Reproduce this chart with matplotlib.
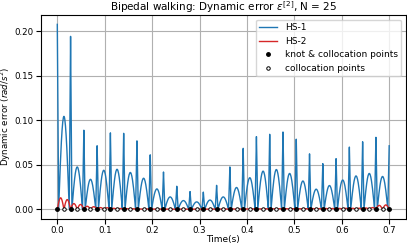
import numpy as np
import matplotlib
matplotlib.use("Agg")
import matplotlib.pyplot as plt

# tiempo final y numero de intervalos
T = 0.7
N = 25

# picos del error HS-1 en los nudos (26) y en los puntos medios (25)
hs1_knot_peaks = [0.208, 0.1945, 0.089, 0.0715, 0.086, 0.0855, 0.077, 0.0613, 0.042,
                  0.026, 0.020, 0.0194, 0.027, 0.0477, 0.0686, 0.0818, 0.0844, 0.087,
                  0.0789, 0.0624, 0.0514, 0.057, 0.0700, 0.076, 0.0810, 0.0715]
hs1_mid_peaks = [0.1046, 0.0477, 0.0338, 0.044, 0.0451, 0.0415, 0.035, 0.023, 0.014,
                 0.0099, 0.0084, 0.0105, 0.014, 0.0246, 0.0356, 0.043, 0.0448, 0.0404,
                 0.0319, 0.0227, 0.0268, 0.033, 0.0376, 0.0404, 0.0370]

# picos del error HS-2 por medio intervalo (50)
hs2_peaks = [0.013, 0.011, 0.0065, 0.0055, 0.0035, 0.003, 0.002, 0.0018, 0.0012, 0.001,
             0.0008, 0.0007, 0.0005, 0.0005, 0.0004, 0.0004, 0.0003, 0.0003, 0.0003, 0.0003,
             0.0003, 0.0003, 0.0003, 0.0004, 0.0004, 0.0004, 0.0005, 0.0005, 0.0005, 0.0006,
             0.0006, 0.0007, 0.0007, 0.0008, 0.0008, 0.0008, 0.0008, 0.0008, 0.0009, 0.0009,
             0.001, 0.001, 0.0011, 0.0012, 0.0012, 0.0013, 0.0015, 0.002, 0.0045, 0.005]

t_knots = np.linspace(0, T, N + 1)
t_mid = 0.5 * (t_knots[:-1] + t_knots[1:])
h = T / N


def curva_hs1(w=0.1, m=40):
    tt, yy = [], []
    for k in range(N):
        s = np.linspace(0, 1, m)
        y = hs1_knot_peaks[k] * np.clip(1 - s / w, 0, None)
        y += hs1_knot_peaks[k + 1] * np.clip(1 - (1 - s) / w, 0, None)
        dentro = (s > w) & (s < 1 - w)
        y[dentro] += hs1_mid_peaks[k] * np.sin(np.pi * (s[dentro] - w) / (1 - 2 * w))
        tt.append(t_knots[k] + s * h)
        yy.append(y)
    return np.concatenate(tt), np.concatenate(yy)


def curva_hs2(m=20):
    tt, yy = [], []
    for j, p in enumerate(hs2_peaks):
        s = np.linspace(0, 1, m)
        tt.append(j * h / 2 + s * h / 2)
        yy.append(p * np.sin(np.pi * s))
    return np.concatenate(tt), np.concatenate(yy)


t1, e1 = curva_hs1()
t2, e2 = curva_hs2()

fig = plt.figure(figsize=(4.07, 2.44), dpi=100)
ax = fig.add_axes([0.1, 0.104, 0.897, 0.834])

ax.plot(t1, e1, color="tab:blue", lw=1, label="HS-1")
ax.plot(t2, e2, color="tab:red", lw=1, label="HS-2")
ax.plot(t_knots, np.zeros_like(t_knots), "o", color="k", ms=2.5,
        label="knot & collocation points", zorder=5)
ax.plot(t_mid, np.zeros_like(t_mid), "o", mfc="white", mec="k", ms=2.5, mew=0.7,
        label="collocation points", zorder=5)

ax.grid(True)
ax.tick_params(labelsize=6.2, pad=2)
ax.set_title(r"Bipedal walking: Dynamic error $\varepsilon^{[2]}$, N = 25", fontsize=7.5, pad=3)
ax.set_xlabel("Time(s)", fontsize=6.5, labelpad=0)
ax.set_ylabel(r"Dynamic error ($rad/s^2$)", fontsize=6.2)
ax.yaxis.set_label_coords(-0.077, 0.5)
ax.legend(loc="upper right", fontsize=6.5)

fig.savefig("out.png", dpi=100)
